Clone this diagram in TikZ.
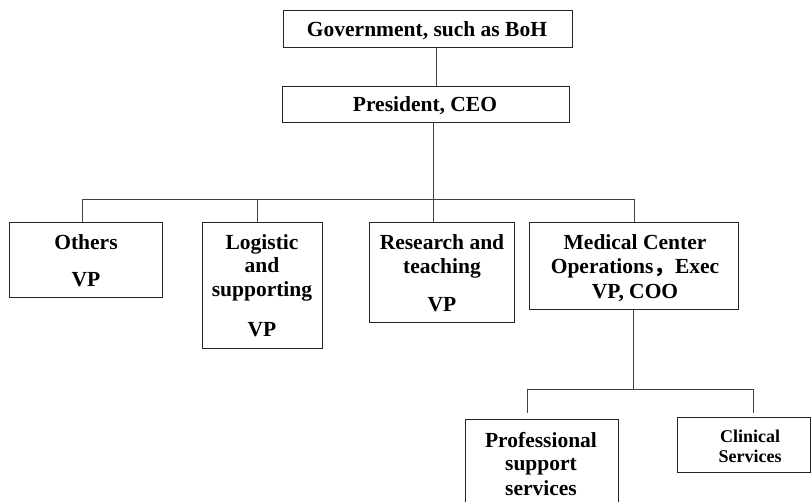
\documentclass[tikz,border=0pt]{standalone}
\usepackage{fontspec}
\setmainfont{Liberation Serif}
\newfontfamily\cjk{Noto Sans CJK SC}
\begin{document}
\begin{tikzpicture}[x=1pt,y=-1pt,
  box/.style={draw=black!85, line width=1pt, inner sep=0pt},
  conn/.style={draw=black!75, line width=0.9pt},
  txt/.style={font=\bfseries\fontsize{21.5}{24}\selectfont, align=center, inner sep=0pt, anchor=base},
  stxt/.style={font=\bfseries\fontsize{18}{20}\selectfont, align=center, inner sep=0pt, anchor=base}]
\useasboundingbox (0,0) rectangle (811,502);
\clip (0,0) rectangle (811,502);
% boxes
\node[box, minimum width=289pt, minimum height=37pt] (gov) at (427.5,29.5) {};
\node[box, minimum width=287pt, minimum height=36pt] (pres) at (425.5,105) {};
\node[box, minimum width=153pt, minimum height=75pt] (others) at (85.5,260.5) {};
\node[box, minimum width=120pt, minimum height=126pt] (logistic) at (262,286) {};
\node[box, minimum width=145pt, minimum height=100pt] (research) at (441.5,273) {};
\node[box, minimum width=209pt, minimum height=87pt] (medical) at (633.5,266.5) {};
\node[box, minimum width=153pt, minimum height=101pt] (prof) at (541.5,469.5) {};
\node[box, minimum width=133pt, minimum height=55pt] (clin) at (743.5,444.5) {};
% texts
\node[txt] (tgov) at (427,37) {Government, such as BoH};
\node[txt] (tpres) at (425,112) {President, CEO};
\node[txt] (toth1) at (86,250) {Others};
\node[txt] (toth2) at (86,287) {VP};
\node[txt] (tlog1) at (262,250) {Logistic};
\node[txt] (tlog2) at (262,273) {and};
\node[txt] (tlog3) at (262,297) {supporting};
\node[txt] (tlog4) at (262,337) {VP};
\node[txt] (tres1) at (442,250) {Research and};
\node[txt] (tres2) at (442,274) {teaching};
\node[txt] (tres3) at (442,312) {VP};
\node[txt] (tmed1) at (635,250) {Medical Center};
\node[txt] (tmed2) at (635,274) {Operations{\cjk ，}Exec};
\node[txt] (tmed3) at (635,299) {VP, COO};
\node[txt] (tpro1) at (541,447) {Professional};
\node[txt] (tpro2) at (541,470) {support};
\node[txt] (tpro3) at (541,495) {services};
\node[stxt] (tcli1) at (750,442) {Clinical};
\node[stxt] (tcli2) at (750,462) {Services};
% connectors
\coordinate (busL) at (82,199);
\coordinate (busR) at (634,199);
\coordinate (busM) at (433,199);
\coordinate (busLg) at (257,199);
\draw[conn] (gov.south -| 436,0) -- (pres.north -| 436,0);
\draw[conn] (pres.south -| busM) -- (research.north -| busM);
\draw[conn] (others.north -| busL) -- (busL) -- (busR) -- (medical.north -| busR);
\draw[conn] (busLg) -- (logistic.north -| busLg);
\coordinate (bus2) at (633,389);
\coordinate (bus2L) at (527,389);
\coordinate (bus2R) at (753,389);
\coordinate (endL) at (527,413);
\coordinate (endR) at (753,413);
\draw[conn] (medical.south -| bus2) -- (bus2);
\draw[conn] (endL) -- (bus2L) -- (bus2R) -- (endR);
\end{tikzpicture}
\end{document}
